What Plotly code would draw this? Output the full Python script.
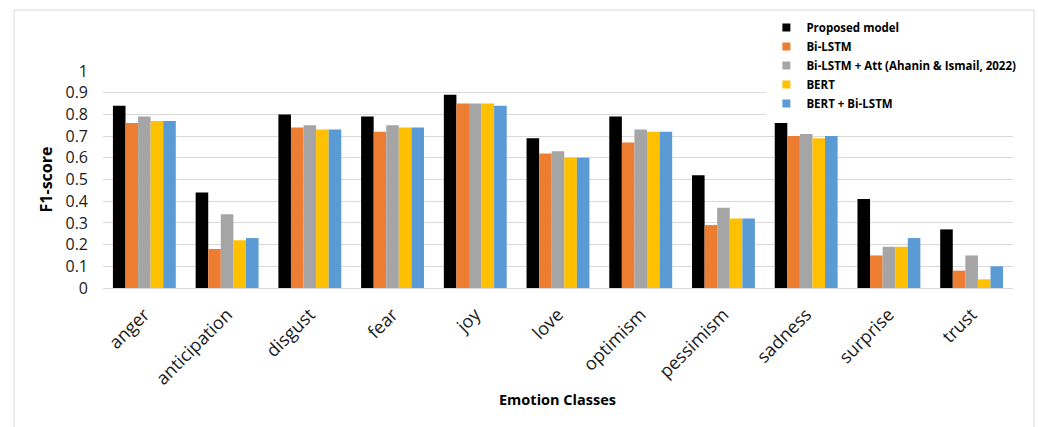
import plotly.graph_objects as go

# Emotion classes and F1-scores per model
categories = ["anger", "anticipation", "disgust", "fear", "joy", "love",
              "optimism", "pessimism", "sadness", "surprise", "trust"]

proposed_model = [0.84, 0.44, 0.80, 0.79, 0.89, 0.69, 0.79, 0.52, 0.76, 0.41, 0.27]
bi_lstm        = [0.76, 0.18, 0.74, 0.72, 0.85, 0.62, 0.67, 0.29, 0.70, 0.15, 0.08]
bi_lstm_att    = [0.79, 0.34, 0.75, 0.75, 0.85, 0.63, 0.73, 0.37, 0.71, 0.19, 0.15]
bert           = [0.77, 0.22, 0.73, 0.74, 0.85, 0.60, 0.72, 0.32, 0.69, 0.19, 0.04]
bert_bi_lstm   = [0.77, 0.23, 0.73, 0.74, 0.84, 0.60, 0.72, 0.32, 0.70, 0.23, 0.10]

series = [
    ("Proposed model", proposed_model, "#000000"),
    ("Bi-LSTM", bi_lstm, "#ED7D31"),
    ("Bi-LSTM + Att (Ahanin & Ismail, 2022)", bi_lstm_att, "#A5A5A5"),
    ("BERT", bert, "#FFC000"),
    ("BERT + Bi-LSTM", bert_bi_lstm, "#5B9BD5"),
]

FONT = "Open Sans"

fig = go.Figure()
for name, vals, color in series:
    fig.add_trace(go.Bar(
        x=categories, y=vals, name=name, legendgroup=name, showlegend=False,
        marker=dict(color=color, line=dict(width=0)),
    ))
# small square swatches for the legend
for name, vals, color in series:
    fig.add_trace(go.Scatter(
        x=[None], y=[None], mode="markers", name=name, legendgroup=name,
        marker=dict(symbol="square", size=8, color=color),
    ))

fig.update_layout(
    width=1038, height=427,
    margin=dict(l=103, r=25, t=71, b=139),
    paper_bgcolor="white", plot_bgcolor="white",
    barmode="group", bargap=0.24, bargroupgap=0,
    font=dict(family=FONT, color="#1a1a1a"),
    showlegend=True,
    legend=dict(
        x=0.729, y=1.267, xanchor="left", yanchor="top",
        bgcolor="white", borderwidth=0,
        font=dict(family=FONT, size=11.5, color="#000000", weight="bold"),
        tracegroupgap=0, itemwidth=30,
    ),
    xaxis=dict(
        tickangle=-45, tickfont=dict(size=18, color="#1a1a1a"),
        ticklabelstandoff=8,
        showgrid=False, showline=True, linecolor="#D9D9D9", linewidth=1,
        ticks="",
    ),
    yaxis=dict(
        range=[0, 1], dtick=0.1, tickformat="~g",
        tickfont=dict(size=16, color="#1a1a1a"),
        ticklabelstandoff=14,
        showgrid=True, gridcolor="#D9D9D9", gridwidth=1,
        zeroline=False, showline=False, ticks="",
        title=dict(text="F1-score", standoff=8,
                   font=dict(size=16, color="#000000", weight="bold")),
    ),
    annotations=[
        dict(text="Emotion Classes", x=0.499, y=-0.516, xref="paper", yref="paper",
             xanchor="center", yanchor="middle", showarrow=False,
             font=dict(family=FONT, size=14.5, color="#000000", weight="bold")),
    ],
    shapes=[
        dict(type="rect", xref="paper", yref="paper",
             x0=-0.0978, x1=1.0231, y0=-0.75, y1=1.281,
             line=dict(color="#D9D9D9", width=1), fillcolor="rgba(0,0,0,0)",
             layer="below"),
    ],
)

fig.write_html("out.html")
